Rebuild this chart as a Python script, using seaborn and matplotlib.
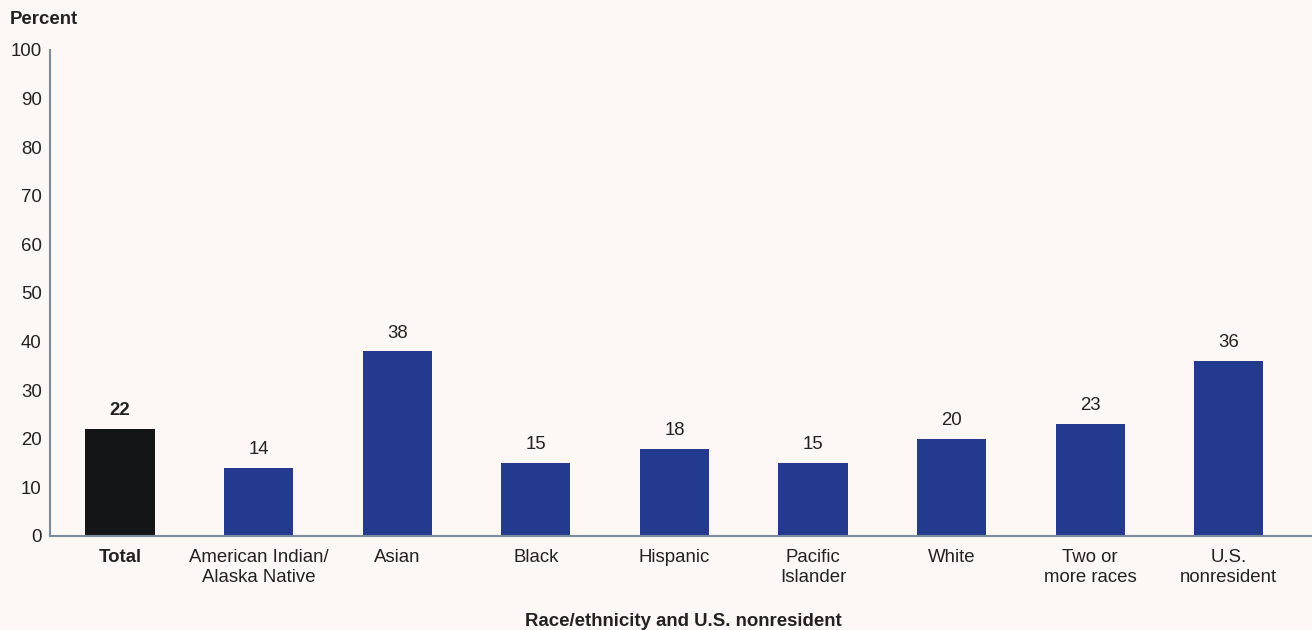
import matplotlib
matplotlib.use("Agg")
import matplotlib.pyplot as plt
import seaborn as sns
import pandas as pd

categories = ["Total", "American Indian/\nAlaska Native", "Asian", "Black", "Hispanic",
              "Pacific\nIslander", "White", "Two or\nmore races", "U.S.\nnonresident"]
values = [22, 14, 38, 15, 18, 15, 20, 23, 36]
y_ticks = [0, 10, 20, 30, 40, 50, 60, 70, 80, 90, 100]

bg = "#FDF8F5"
blue = "#243A8E"
black = "#141517"
axis_col = "#7A8D9C"
text_col = "#222222"
fs = 13.4

sns.set_theme(style="white")
plt.rcParams["font.family"] = ["Liberation Sans", "DejaVu Sans"]

df = pd.DataFrame({"group": categories, "pct": values})
palette = [black] + [blue] * (len(categories) - 1)

fig = plt.figure(figsize=(13.12, 6.3), dpi=100, facecolor=bg)
ax = fig.add_axes([50 / 1312, 1 - 536 / 630, 1262 / 1312, 486 / 630])
ax.set_facecolor(bg)

sns.barplot(data=df, x="group", y="pct", hue="group", palette=palette,
            legend=False, width=0.5, saturation=1, linewidth=0, ax=ax)

ax.set_xlim(-0.505, 8.6)
ax.set_ylim(0, 100)
ax.set_yticks(y_ticks)
ax.set_yticklabels([str(t) for t in y_ticks], fontsize=fs, color=text_col)
ax.tick_params(axis="x", length=0, pad=9)
ax.tick_params(axis="y", length=0, pad=6)
ax.set_xticks(range(len(categories)))
ax.set_xticklabels(categories, fontsize=fs, color=text_col, linespacing=1.3)
ax.get_xticklabels()[0].set_fontweight("bold")

for i, v in enumerate(values):
    ax.text(i, v + 2.0, str(v), ha="center", va="bottom", fontsize=fs,
            color=text_col, fontweight="bold" if i == 0 else "normal")

for s in ["top", "right"]:
    ax.spines[s].set_visible(False)
for s in ["left", "bottom"]:
    ax.spines[s].set_color(axis_col)
    ax.spines[s].set_linewidth(1.5)

ax.set_xlabel("")
ax.set_ylabel("")
fig.text(10 / 1312, 1 - 19 / 630, "Percent", fontsize=fs, fontweight="bold",
         color=text_col, ha="left", va="center")
fig.text(683 / 1312, 1 - 621 / 630, "Race/ethnicity and U.S. nonresident", fontsize=fs,
         fontweight="bold", color=text_col, ha="center", va="center")

fig.savefig("out.png", dpi=100, facecolor=bg)
